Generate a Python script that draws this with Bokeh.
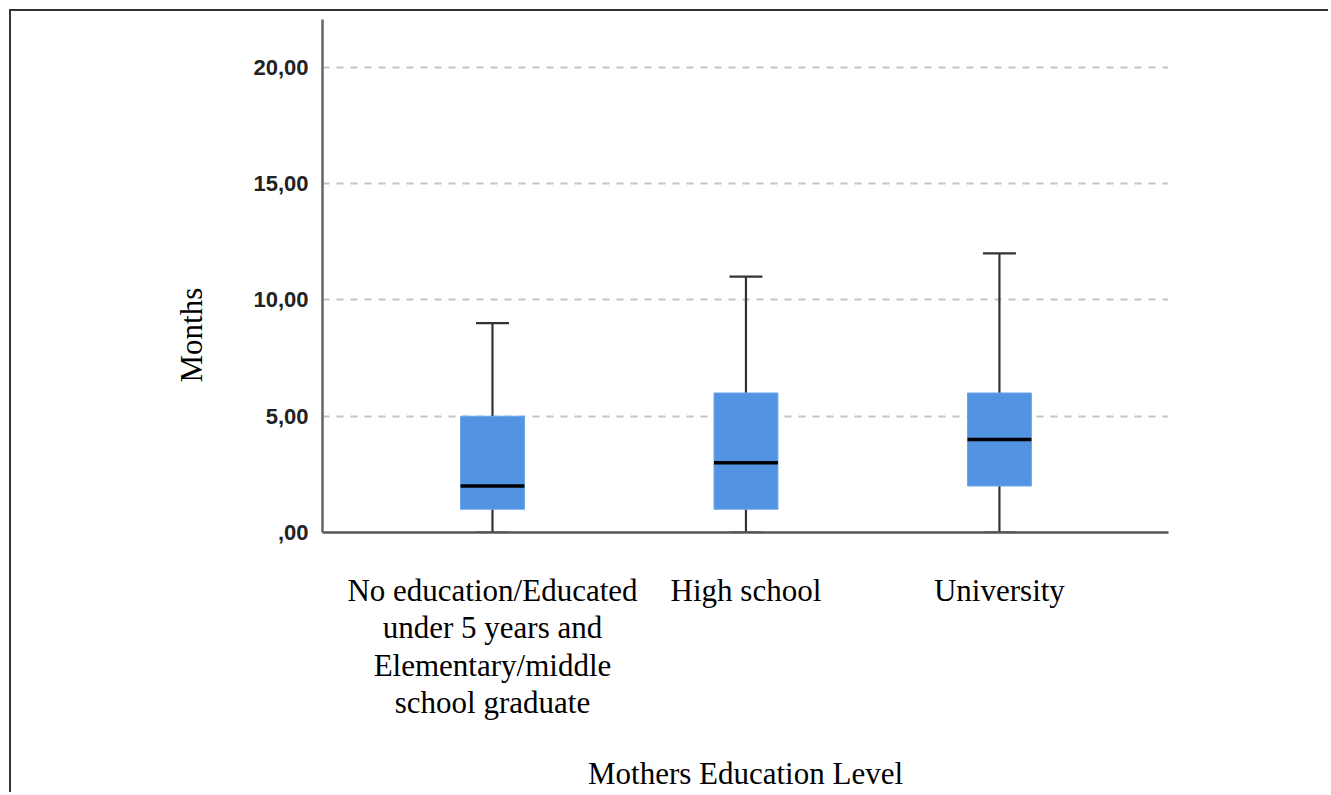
from bokeh.plotting import figure
from bokeh.models import ColumnDataSource, Range1d, FixedTicker, Title
from bokeh.embed import file_html
from bokeh.resources import INLINE

categories = ["No education/Educated\nunder 5 years and\nElementary/middle\nschool graduate",
              "High school", "University"]
positions = [1, 2, 3]
lower_whisker = [0, 0, 0]
q1 = [1, 1, 2]
median = [2, 3, 4]
q3 = [5, 6, 6]
upper_whisker = [9, 11, 12]
y_ticks = [0, 5, 10, 15, 20]
y_tick_labels = [",00", "5,00", "10,00", "15,00", "20,00"]

box_w = 0.252
cap_w = 0.13

src = ColumnDataSource(dict(
    x=positions, q1=q1, med=median, q3=q3, lo=lower_whisker, hi=upper_whisker,
    x0=[p - box_w / 2 for p in positions], x1=[p + box_w / 2 for p in positions],
    c0=[p - cap_w / 2 for p in positions], c1=[p + cap_w / 2 for p in positions],
))

p = figure(width=1319, height=783, output_backend="svg", toolbar_location=None,
           x_range=Range1d(0.3294, 3.667), y_range=Range1d(0, 22.06),
           min_border_left=311, min_border_right=162, min_border_top=8, min_border_bottom=262)
p.margin = (9, 0, 0, 9)
p.styles = {"border-left": "2px solid #333333", "border-top": "2px solid #333333"}
p.outline_line_color = None
p.background_fill_color = "white"
p.border_fill_color = "white"

# grid
p.xgrid.visible = False
p.ygrid.ticker = FixedTicker(ticks=y_ticks[1:])
p.ygrid.grid_line_color = "#c4c4c4"
p.ygrid.grid_line_width = 2
p.ygrid.grid_line_dash = "7 7"

# whiskers
p.segment("x", "q3", "x", "hi", source=src, line_color="#333333", line_width=2.2)
p.segment("x", "lo", "x", "q1", source=src, line_color="#333333", line_width=2.2)
p.segment("c0", "hi", "c1", "hi", source=src, line_color="#333333", line_width=2.2)
p.segment("c0", "lo", "c1", "lo", source=src, line_color="#333333", line_width=2.2)
# boxes
p.vbar(x="x", width=box_w, bottom="q1", top="q3", source=src,
       fill_color="#5294e2", line_color="#6aa4ea", line_width=1)
# medians
p.segment("x0", "med", "x1", "med", source=src, line_color="black", line_width=3.5)

# axes
p.yaxis.ticker = FixedTicker(ticks=y_ticks)
p.yaxis.major_label_overrides = {t: l for t, l in zip(y_ticks, y_tick_labels)}
p.yaxis.major_label_text_font = "Liberation Sans"
p.yaxis.major_label_text_font_style = "bold"
p.yaxis.major_label_text_font_size = "22px"
p.yaxis.major_label_text_color = "#222222"
p.yaxis.major_label_standoff = 14
p.yaxis.major_tick_out = 0
p.yaxis.major_tick_in = 0
p.yaxis.minor_tick_out = 0
p.yaxis.minor_tick_in = 0
p.yaxis.axis_line_color = "#666666"
p.yaxis.axis_line_width = 2.5

p.xaxis.ticker = FixedTicker(ticks=positions)
p.xaxis.major_label_overrides = {t: l for t, l in zip(positions, categories)}
p.xaxis.major_label_text_font = "Liberation Serif"
p.xaxis.major_label_text_font_size = "31px"
p.xaxis.major_label_text_color = "black"
p.xaxis.major_label_text_line_height = 1.075
p.xaxis.major_label_standoff = 40
p.xaxis.major_tick_out = 0
p.xaxis.major_tick_in = 0
p.xaxis.minor_tick_out = 0
p.xaxis.minor_tick_in = 0
p.xaxis.axis_line_color = "#555555"
p.xaxis.axis_line_width = 2.5
p.xaxis.axis_label = "Mothers Education Level"
p.xaxis.axis_label_text_font = "Liberation Serif"
p.xaxis.axis_label_text_font_size = "31px"
p.xaxis.axis_label_text_font_style = "normal"
p.xaxis.axis_label_text_color = "black"
p.xaxis.axis_label_standoff = 33

# y axis title
p.add_layout(Title(text="Months", align="left", offset=150, vertical_align="bottom",
                   standoff=84, text_font="Liberation Serif", text_font_size="31px",
                   text_font_style="normal", text_color="black"), "left")

open("out.html", "w").write(file_html(p, INLINE))
